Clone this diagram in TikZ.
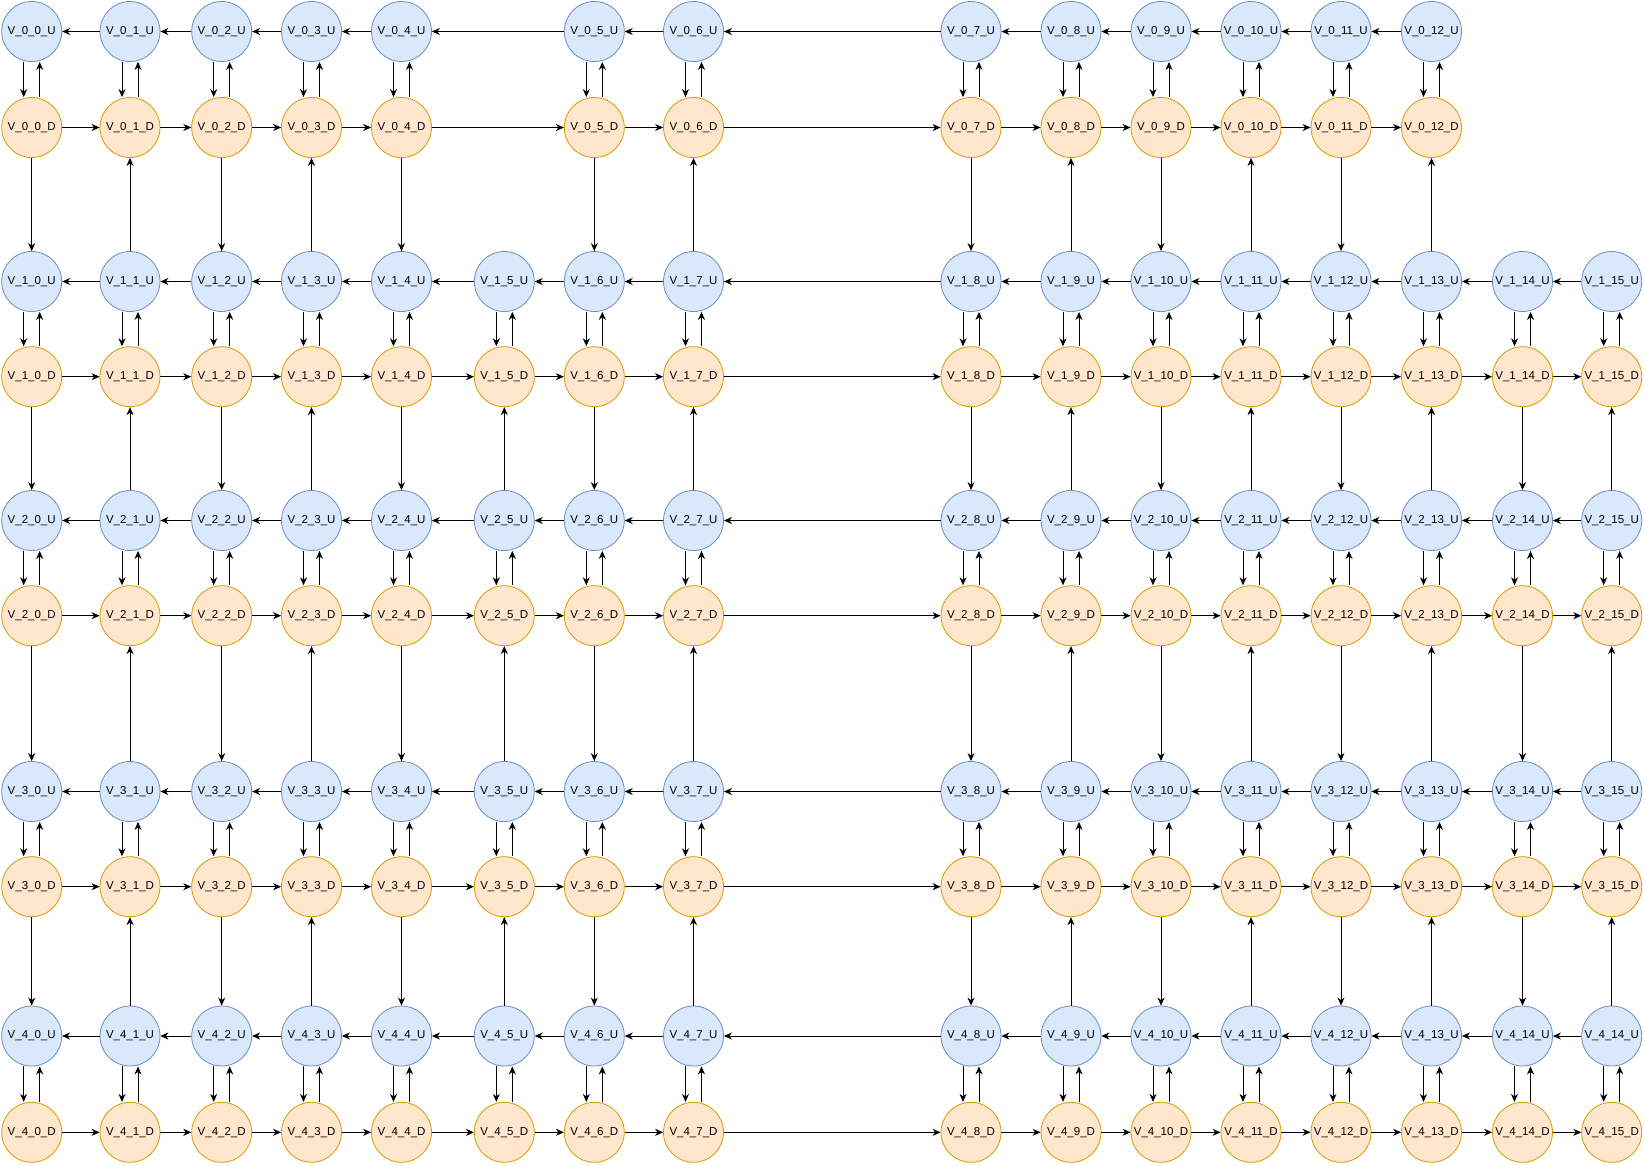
\documentclass[tikz,border=0pt]{standalone}
\usepackage{fontspec}
\setmainfont{Liberation Sans}
\usetikzlibrary{arrows.meta}
\definecolor{ufill}{HTML}{DAE8FC}
\definecolor{uline}{HTML}{6C8EBF}
\definecolor{dfill}{HTML}{FFE6CC}
\definecolor{dline}{HTML}{D79B00}
\tikzset{
  unode/.style={circle,draw=uline,fill=ufill,minimum size=60pt,inner sep=0pt,line width=0.8pt,font=\fontsize{11.5}{13}\selectfont},
  dnode/.style={circle,draw=dline,fill=dfill,minimum size=60pt,inner sep=0pt,line width=0.8pt,font=\fontsize{11.5}{13}\selectfont},
  conn/.style={-{Stealth[length=8pt,width=7pt,inset=2.5pt]},line width=1pt,black},
}
\begin{document}
\begin{tikzpicture}[x=1pt,y=-1pt]
\useasboundingbox[fill=white] (0,0) rectangle (1644,1165);
\def\ys{{31.5,281.5,520.5,791.5,1036}}
\def\yds{{127.5,376.7,615.7,886.7,1132.3}}
\def\xs{{31.7,130,221.7,311.5,401.5,504.3,594.3,693.5,971,1071,1161,1251,1341,1431.5,1522.5,1611.7}}
% row 0 nodes
\foreach \j/\g in {0/0,1/1,2/2,3/3,4/4,5/6,6/7,7/8,8/9,9/10,10/11,11/12,12/13} {
  \pgfmathsetmacro\xx{\xs[\g]}
  \node[unode] (U-0-\g) at (\xx,31.5) {V\_0\_\j\_U};
  \node[dnode] (D-0-\g) at (\xx,127.5) {V\_0\_\j\_D};
}
% rows 1-4 nodes
\foreach \r in {1,...,4} {
  \pgfmathsetmacro\yu{\ys[\r]}
  \pgfmathsetmacro\yd{\yds[\r]}
  \foreach \g in {0,...,15} {
    \pgfmathsetmacro\xx{\xs[\g]}
    \pgfmathtruncatemacro\lab{(\r==4 && \g==15) ? 14 : \g}
    \node[unode] (U-\r-\g) at (\xx,\yu) {V\_\r\_\lab\_U};
    \node[dnode] (D-\r-\g) at (\xx,\yd) {V\_\r\_\g\_D};
  }
}
% row 0 horizontal edges and U/D pairs
\foreach \a/\b in {1/0,2/1,3/2,4/3,6/4,7/6,8/7,9/8,10/9,11/10,12/11,13/12} {
  \draw[conn] (U-0-\a) -- (U-0-\b);
  \draw[conn] (D-0-\b) -- (D-0-\a);
}
\foreach \g in {0,1,2,3,4,6,7,8,9,10,11,12,13} {
  \draw[conn] ([xshift=-8pt]U-0-\g.south) -- ([xshift=-8pt]D-0-\g.north);
  \draw[conn] ([xshift=8pt]D-0-\g.north) -- ([xshift=8pt]U-0-\g.south);
}
% row 0 to row 1 vertical edges
\foreach \g in {0,2,4,6,8,10,12} {
  \draw[conn] (D-0-\g) -- (U-1-\g);
}
\foreach \g in {1,3,7,9,11,13} {
  \draw[conn] (U-1-\g) -- (D-0-\g);
}
% rows 1-4
\foreach \r in {1,...,4} {
  \foreach \g in {1,...,15} {
    \pgfmathtruncatemacro\gp{\g-1}
    \draw[conn] (U-\r-\g) -- (U-\r-\gp);
    \draw[conn] (D-\r-\gp) -- (D-\r-\g);
  }
  \foreach \g in {0,...,15} {
    \draw[conn] ([xshift=-8pt]U-\r-\g.south) -- ([xshift=-8pt]D-\r-\g.north);
    \draw[conn] ([xshift=8pt]D-\r-\g.north) -- ([xshift=8pt]U-\r-\g.south);
  }
}
\foreach \r in {1,2,3} {
  \pgfmathtruncatemacro\rn{\r+1}
  \foreach \g in {0,2,...,14} {
    \draw[conn] (D-\r-\g) -- (U-\rn-\g);
  }
  \foreach \g in {1,3,...,15} {
    \draw[conn] (U-\rn-\g) -- (D-\r-\g);
  }
}
\end{tikzpicture}
\end{document}
